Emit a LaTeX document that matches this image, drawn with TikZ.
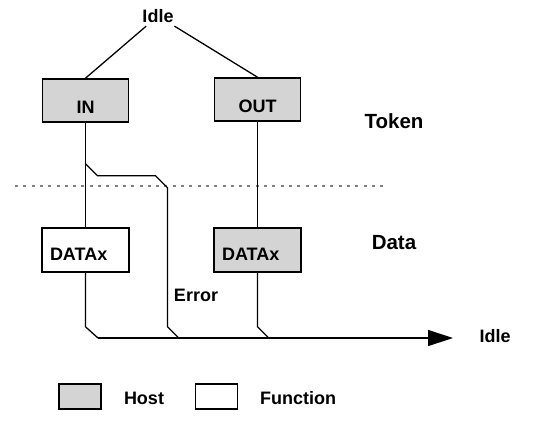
\documentclass[tikz,border=0pt]{standalone}
\usepackage{fontspec}
\setmainfont{Liberation Sans}
\usetikzlibrary{arrows.meta}
\definecolor{hostgray}{RGB}{212,212,212}
\begin{document}
\begin{tikzpicture}[x=1pt, y=-1pt,
        txt/.style={font=\bfseries\fontsize{18}{20}\selectfont},
        big/.style={font=\bfseries\fontsize{20.5}{23}\selectfont},
        box/.style={draw, line width=1.6pt, minimum width=86pt, inner sep=0pt, font=\bfseries\fontsize{18}{20}\selectfont},
        host/.style={box, fill=hostgray},
        func/.style={box, fill=white},
        tokenbox/.style={text height=34.5pt, text depth=8.5pt},
        databox/.style={text width=71pt, align=left, inner xsep=8pt, text height=32pt, text depth=12pt},
        keybox/.style={draw, line width=1.6pt, minimum width=42pt, minimum height=25pt},
        wire/.style={line width=1.3pt}]
        \useasboundingbox (0,0) rectangle (534,423);

        % Token phase
        \node[txt] (idle) at (158,16) {Idle};
        \node[host, tokenbox] (in) at (85.5,100.5) {IN};
        \node[host, tokenbox] (out) at (257.5,99.5) {OUT};
        \node[big] (token) at (394,121) {Token};

        % Phase separator
        \draw[gray, line width=1.2pt, dash pattern=on 3pt off 5.3pt] (15,186) -- (383,186);

        % Data phase
        \node[func, databox] (datain) at (85.5,250) {DATAx};
        \node[host, databox] (dataout) at (257.5,250) {DATAx};
        \node[big] (data) at (394,243) {Data};
        \node[txt] (error) at (196,295) {Error};

        % Connections
        \draw[wire] (idle) -- (in.north);
        \draw[wire] (idle) -- (out.north);
        \draw[wire] (in) -- (datain);
        \draw[wire] (out) -- (dataout);

        % Back to idle
        \coordinate (join) at (98,338);
        \coordinate (tip) at (453,338);
        \node[txt] (idleend) at (495,336) {Idle};
        \draw[wire] (datain.south) -- ++(0,54) -- (join);
        \draw[wire] (in.south) ++(0,41) -- ++(12,12) -- ++(58,0) -- ++(12,12) -- ++(0,139) -- ++(12,12);
        \draw[wire] (dataout.south) -- ++(0,54) -- ++(12,12);
        \draw[wire, -{Triangle[length=25pt, width=16pt]}] (join) -- (tip);

        % Legend
        \node[keybox, fill=hostgray] (hostkey) at (80,396.5) {};
        \node[txt] (hostlbl) at (144,398) {Host};
        \node[keybox, fill=white] (funckey) at (216.5,396.5) {};
        \node[txt] (funclbl) at (298,398) {Function};
    \end{tikzpicture}
\end{document}
